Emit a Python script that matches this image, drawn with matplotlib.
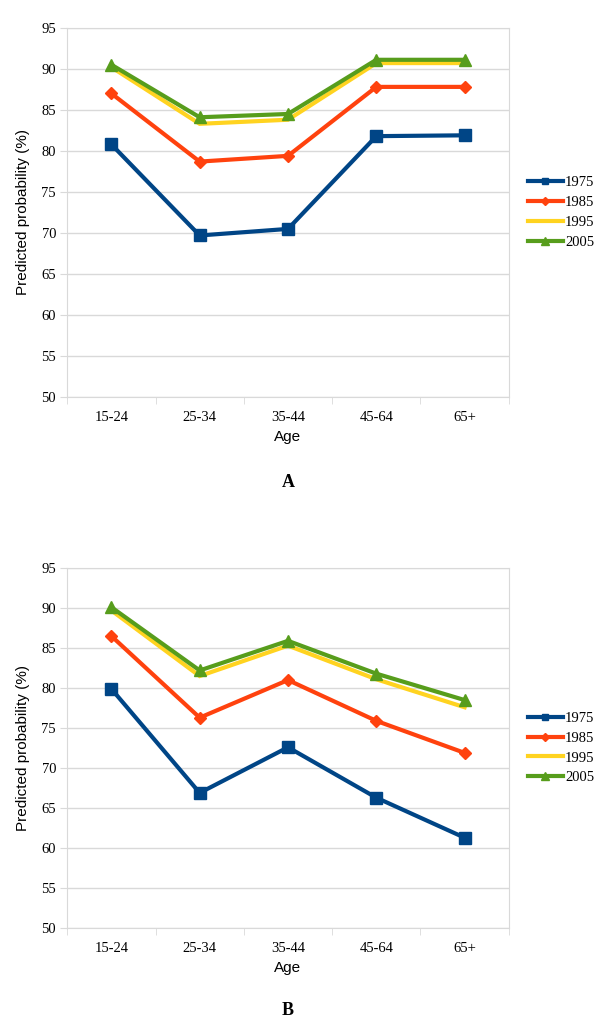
import numpy as np
import matplotlib.pyplot as plt

ages = ['15-24', '25-34', '35-44', '45-64', '65+']
years = ['1975', '1985', '1995', '2005']

# panel A
a_1975 = [80.8, 69.7, 70.5, 81.8, 81.9]
a_1985 = [87.0, 78.7, 79.4, 87.8, 87.8]
a_1995 = [90.2, 83.3, 83.8, 90.7, 90.7]
a_2005 = [90.5, 84.1, 84.5, 91.1, 91.1]

# panel B
b_1975 = [79.9, 66.9, 72.6, 66.3, 61.3]
b_1985 = [86.5, 76.3, 81.0, 75.9, 71.9]
b_1995 = [89.7, 81.5, 85.3, 81.1, 77.6]
b_2005 = [90.1, 82.2, 85.9, 81.8, 78.5]

yticks = [50, 55, 60, 65, 70, 75, 80, 85, 90, 95]

COLORS = ['#004586', '#ff420e', '#ffd320', '#579d1c']
MARKERS = ['s', 'D', None, '^']
MSIZES = [8, 6.5, 0, 8.5]
GRID = '#d9d9d9'
SERIF = 'Liberation Serif'
SANS = 'Liberation Sans'


def draw_panel(ax, series, letter):
    x = np.arange(len(ages))
    for vals, year, c, m, ms in zip(series, years, COLORS, MARKERS, MSIZES):
        ax.plot(x, vals, color=c, lw=3, marker=m, ms=ms, label=year,
                solid_joinstyle='miter')
    ax.set_xlim(-0.5, len(ages) - 0.5)
    ax.set_ylim(50, 95)
    ax.set_yticks(yticks)
    ax.set_yticklabels([str(t) for t in yticks], family=SERIF, fontsize=10.5)
    ax.set_xticks(x)
    ax.set_xticklabels(ages, family=SERIF, fontsize=10.5)
    ax.set_xticks(np.arange(len(ages) + 1) - 0.5, minor=True)
    ax.tick_params(axis='x', which='major', length=0, pad=10)
    ax.tick_params(axis='x', which='minor', length=5, color=GRID)
    ax.tick_params(axis='y', length=5, color=GRID, pad=3)
    ax.grid(axis='y', color=GRID, lw=1)
    ax.set_axisbelow(True)
    for s in ax.spines.values():
        s.set_color(GRID)
    ax.set_xlabel('Age', family=SANS, fontsize=11, labelpad=4)
    ax.set_ylabel('Predicted probability (%)', family=SANS, fontsize=11, labelpad=8)
    ax.legend(loc='center left', bbox_to_anchor=(1.03, 0.5), frameon=False,
              prop={'family': SERIF, 'size': 10.5}, handlelength=2.4,
              handletextpad=0.15, labelspacing=0.45, borderaxespad=0,
              markerscale=0.6)
    ax.text(0.5, -0.23, letter, transform=ax.transAxes, ha='center', va='center',
            family=SERIF, fontweight='bold', fontsize=13)


fig = plt.figure(figsize=(6, 10.29), dpi=100)
ax1 = fig.add_axes([0.112, 0.614, 0.736, 0.359])
ax2 = fig.add_axes([0.112, 0.098, 0.736, 0.35])

draw_panel(ax1, [a_1975, a_1985, a_1995, a_2005], 'A')
draw_panel(ax2, [b_1975, b_1985, b_1995, b_2005], 'B')

fig.savefig('out.png', dpi=100)
